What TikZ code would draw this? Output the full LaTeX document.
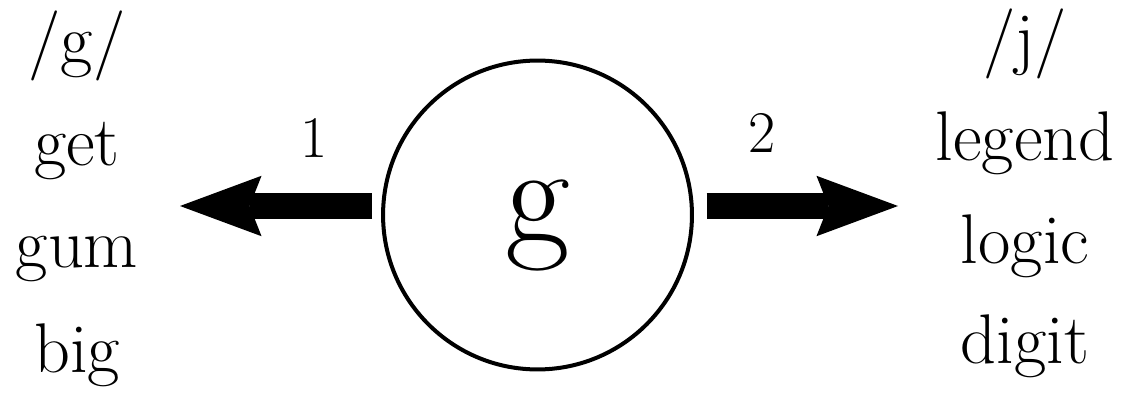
\documentclass[tikz,border=0pt]{standalone}
\usetikzlibrary{arrows.meta}

\begin{document}
\begin{tikzpicture}[
    x=0.025cm, y=-0.025cm,
    word/.style={anchor=base, inner sep=0pt, font=\fontsize{50}{60}\selectfont},
    num/.style={anchor=base, inner sep=0pt, font=\fontsize{42}{50}\selectfont},
    letter/.style={draw, circle, line width=2.85pt, minimum size=7.72cm, inner sep=0pt, font=\fontsize{100}{110}\selectfont, text height=50pt, text depth=10.8pt},
    fat/.style={line width=18.5pt, -{Stealth[length=58pt, width=43pt, inset=8.5pt, line width=0pt]}}
]
\useasboundingbox (0,0) rectangle (1136,394);

\node[letter] (sound) at (537.5,215) {g};

% hard g
\node[word] (hardhead) at (77,64) {/g/};
\node[word] (get) at (77,165) {get};
\node[word] (gum) at (77,267) {gum};
\node[word] (big) at (77,372) {big};

% soft g
\node[word] (softhead) at (1025,62) {/j/};
\node[word] (legend) at (1025,160) {legend};
\node[word] (logic) at (1025,263) {logic};
\node[word] (digit) at (1025,363) {digit};

\coordinate (hardend) at (180,206);
\coordinate (softend) at (898,206);

\draw[fat, shorten <=6.4pt] (sound.west |- hardend) -- (hardend);
\draw[fat, shorten <=9pt] (sound.east |- softend) -- (softend);

\node[num] (one) at (314,157) {1};
\node[num] (two) at (762,152) {2};

\end{tikzpicture}
\end{document}
